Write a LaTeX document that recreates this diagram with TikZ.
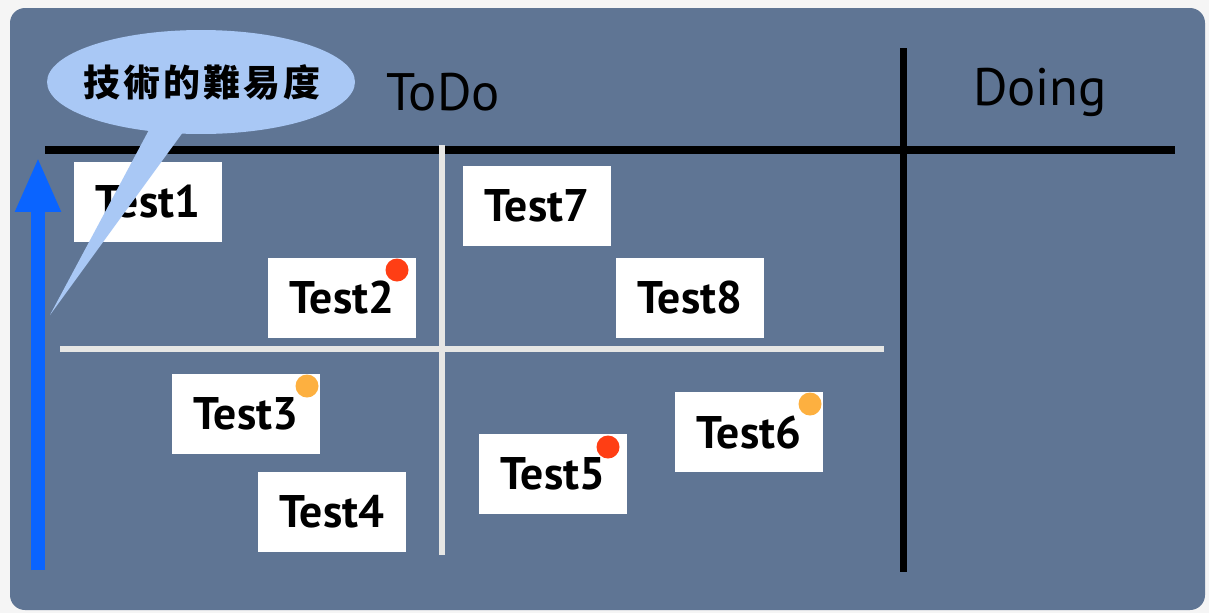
\documentclass[tikz,border=0pt]{standalone}
\usepackage{fontspec}
\setmainfont{PT Sans}
\newfontfamily\cjk{Noto Sans CJK TC}
\usetikzlibrary{arrows.meta,shapes.geometric}

\definecolor{board}{HTML}{5F7594}
\definecolor{chalk}{HTML}{E6E6E4}
\definecolor{bubble}{HTML}{A9C8F5}
\definecolor{upblue}{HTML}{0A64FF}
\definecolor{hotred}{HTML}{FF3E14}
\definecolor{warmorange}{HTML}{FDB040}

\tikzset{
  card/.style={fill=white, minimum width=2.96cm, minimum height=1.6cm, font=\fontsize{26}{26}\selectfont\bfseries},
  colhead/.style={font=\fontsize{30}{30}\selectfont},
  blackline/.style={line width=4pt, black},
  chalkline/.style={line width=3.6pt, chalk},
  dot/.style={circle, minimum size=0.46cm, inner sep=0pt}
}

\begin{document}
\begin{tikzpicture}[x=0.02cm, y=-0.02cm]
  \useasboundingbox (0,0) rectangle (1209,613);
  \fill[gray!8] (0,0) rectangle (1209,613);
  \fill[board, rounded corners=0.3cm] (10,8) rectangle (1205,610);

  % board lines
  \draw[blackline] (45,150) -- (1175,150);
  \draw[blackline] (903,48) -- (903,572);
  \draw[chalkline] (442,145) -- (442,555);
  \draw[chalkline] (60,349) -- (884,349);

  \node[colhead] (todo) at (443,92) {ToDo};
  \node[colhead] (doing) at (1040,92) {Doing};

  % cards
  \node[card] (test1) at (148,202) {Test1};
  \node[card] (test2) at (342,298) {Test2};
  \node[card] (test3) at (246,414) {Test3};
  \node[card] (test4) at (332,512) {Test4};
  \node[card] (test5) at (553,474) {Test5};
  \node[card] (test6) at (749,432) {Test6};
  \node[card] (test7) at (537,206) {Test7};
  \node[card] (test8) at (690,298) {Test8};

  \node[dot, fill=hotred] (mark2) at (397,270) {};
  \node[dot, fill=warmorange] (mark3) at (307,386) {};
  \node[dot, fill=hotred] (mark5) at (608,447) {};
  \node[dot, fill=warmorange] (mark6) at (810,404) {};

  % axis
  \coordinate (axislow) at (38,570);
  \coordinate (axishigh) at (38,157);
  \draw[upblue, line width=0.28cm, -{Triangle[length=1.1cm, width=0.84cm]}] (axislow) -- (axishigh);

  % callout
  \coordinate (tip) at (50,315);
  \fill[bubble] (150,128) -- (tip) -- (186,128) -- cycle;
  \fill[bubble] (201,82) ellipse [x radius=3.08cm, y radius=1.04cm];
  \node (level) at (202,82)
    {\cjk\fontsize{21}{21}\selectfont\bfseries\addfontfeature{LetterSpace=8}技術的難易度};
\end{tikzpicture}
\end{document}
